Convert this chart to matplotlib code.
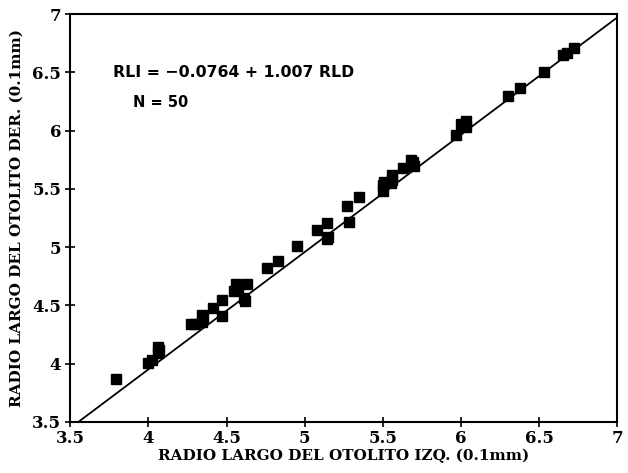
import matplotlib
matplotlib.use("Agg")
import matplotlib.pyplot as plt
import numpy as np

# Data
rld = [3.79, 4.00, 4.02, 4.06, 4.06, 4.07, 4.27, 4.30, 4.34, 4.34,
       4.35, 4.41, 4.47, 4.47, 4.55, 4.56, 4.57, 4.63, 4.62, 4.61,
       4.76, 4.83, 4.95, 5.08, 5.14, 5.15, 5.14, 5.27, 5.28, 5.35,
       5.50, 5.50, 5.51, 5.56, 5.56, 5.55, 5.63, 5.69, 5.70, 5.68,
       5.97, 6.03, 6.03, 6.00, 6.30, 6.38, 6.53, 6.65, 6.68, 6.72]
rli = [3.87, 4.01, 4.03, 4.09, 4.14, 4.12, 4.34, 4.34, 4.36, 4.42,
       4.40, 4.48, 4.41, 4.55, 4.62, 4.68, 4.64, 4.68, 4.54, 4.56,
       4.82, 4.88, 5.01, 5.15, 5.21, 5.09, 5.07, 5.35, 5.22, 5.43,
       5.48, 5.53, 5.56, 5.58, 5.62, 5.55, 5.68, 5.73, 5.70, 5.75,
       5.96, 6.03, 6.08, 6.06, 6.30, 6.37, 6.50, 6.65, 6.67, 6.71]
intercept = -0.0764
slope = 1.007
ticks = [3.5, 4, 4.5, 5, 5.5, 6, 6.5, 7]
tick_labels = ["3.5", "4", "4.5", "5", "5.5", "6", "6.5", "7"]

fig = plt.figure(figsize=(6.28, 4.73), dpi=100)
ax = fig.add_axes([0.112, 0.108, 0.871, 0.862])

ax.plot(rld, rli, linestyle="none", marker="s", markersize=6.8,
        color="black", markeredgecolor="black")
xl = np.array([3.5, 7.0])
ax.plot(xl, intercept + slope * xl, color="black", linewidth=1.3)

ax.set_xlim(3.5, 7)
ax.set_ylim(3.5, 7)
ax.set_xticks(ticks)
ax.set_yticks(ticks)
tickfont = {"family": "DejaVu Serif", "weight": "bold", "size": 12}
labfont = {"family": "DejaVu Serif", "weight": "bold", "size": 11}
ax.set_xticklabels(tick_labels, fontdict=tickfont)
ax.set_yticklabels(tick_labels, fontdict=tickfont)
ax.tick_params(direction="inout", length=7, width=1.2)
ax.tick_params(axis="x", pad=2)
ax.tick_params(axis="y", pad=3)
for s in ax.spines.values():
    s.set_linewidth(1.5)

ax.set_xlabel("RADIO LARGO DEL OTOLITO IZQ. (0.1mm)", fontdict=labfont, labelpad=2)
ax.set_ylabel("RADIO LARGO DEL OTOLITO DER. (0.1mm)", fontdict=labfont, labelpad=6)

ax.text(3.77, 6.5, "RLI = \u22120.0764 + 1.007 RLD", family="DejaVu Sans",
        weight="bold", fontsize=11.3, va="center", ha="left")
ax.text(3.90, 6.24, "N = 50", family="DejaVu Sans",
        weight="bold", fontsize=10.5, va="center", ha="left")

fig.savefig("out.png", dpi=100)
